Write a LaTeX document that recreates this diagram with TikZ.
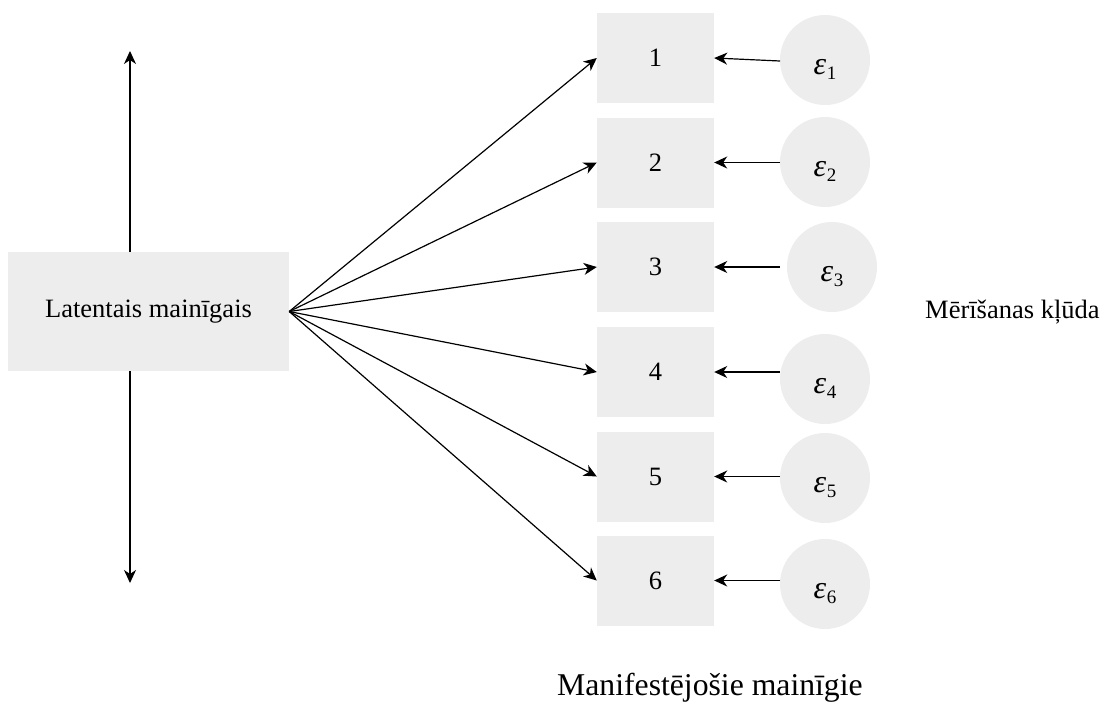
\documentclass[tikz,border=0pt]{standalone}
\usepackage{fontspec}
\setmainfont{Liberation Serif}
\usetikzlibrary{arrows.meta}
\definecolor{boxgray}{HTML}{EDEDED}
% error term: italic epsilon with a lowered index, set a little below centre
\newcommand\errlab[1]{\raisebox{-10pt}{{\itshape ε}\kern0.5pt\raisebox{-5pt}{\fontsize{19}{19}\selectfont #1}}}
\begin{document}
\begin{tikzpicture}[x=1pt,y=-1pt,
  arr/.style={line width=1.2pt,-{Stealth[length=13pt,width=12pt,inset=4pt]}},
  latent/.style={fill=boxgray,minimum width=281pt,minimum height=119pt,inner sep=0pt,
    font=\fontsize{26.5}{32}\selectfont},
  manifest/.style={fill=boxgray,minimum width=117pt,minimum height=90pt,inner sep=0pt,
    font=\fontsize{26.5}{32}\selectfont},
  errc/.style={circle,fill=boxgray,minimum size=90pt,inner sep=0pt,
    text height=12pt,text depth=4pt,font=\fontsize{32}{36}\selectfont},
  label/.style={inner sep=0pt,font=\fontsize{26.5}{32}\selectfont}]
\useasboundingbox (0,0) rectangle (1102,710);

% latent variable
\node[latent] (lat) at (148.5,311.5) {Latentais mainīgais};

% manifest indicators
\foreach \i/\y in {1/58,2/162.5,3/267,4/372,5/476.5,6/580.5}
  \node[manifest] (b\i) at (655.5,\y) {\i};

% measurement errors
\foreach \i/\x/\y in {1/825/60,2/825/162,3/832/267,4/825/379,5/825/478,6/825/584}
  \node[errc] (c\i) at (\x,\y) {\errlab{\i}};

% loadings
\foreach \i in {1,...,6}
  \draw[arr] (lat.east) -- (b\i.west);

% error paths
\coordinate (s1) at (780,61);
\foreach \i in {2,...,6}
  \coordinate (s\i) at (b\i.east -| 780,0);
\foreach \i in {1,...,6}
  \draw[arr] (s\i) -- (b\i.east);

% variance arrows of the latent variable
\coordinate (up) at (130,51);
\coordinate (down) at (130,583);
\draw[arr] (up |- lat.north) -- (up);
\draw[arr] (down |- lat.south) -- (down);

% side labels
\node[label,anchor=west] (err) at (925,312) {Mērīšanas kļūda};
\node[inner sep=0pt,anchor=base west,font=\fontsize{31.7}{38}\selectfont] (man) at (557,695) {Manifestējošie mainīgie};
\end{tikzpicture}
\end{document}
